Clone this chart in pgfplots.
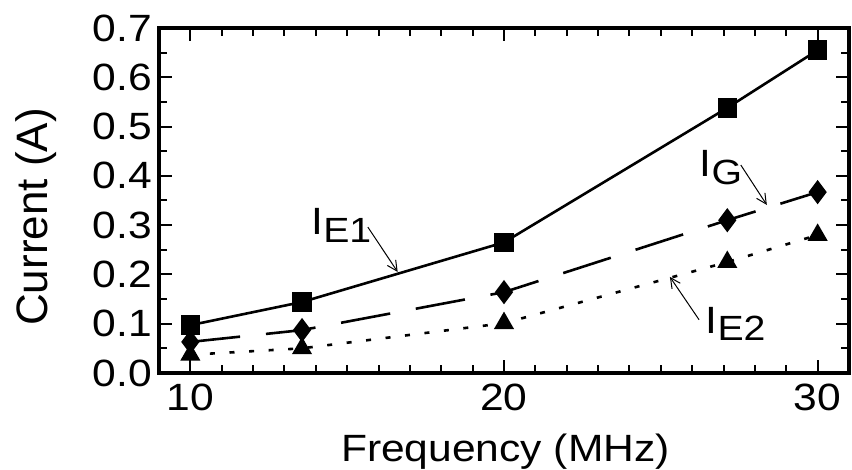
\documentclass[border=0pt]{standalone}
\usepackage{fontspec}
\setmainfont{Liberation Sans}[FakeStretch=1.12]
\newfontfamily\ylabfont{Liberation Sans}
\usepackage{pgfplots}
\pgfplotsset{compat=1.18}
\usetikzlibrary{arrows.meta}
\begin{document}
\begin{tikzpicture}
\begin{axis}[
  scale only axis, width=345pt, height=172.5pt,
  xmin=9, xmax=31, ymin=0, ymax=0.7,
  xtick={10,20,30}, minor xtick={9,11,12,13,14,15,16,17,18,19,21,22,23,24,25,26,27,28,29,31},
  ytick={0,0.1,0.2,0.3,0.4,0.5,0.6,0.7},
  minor ytick={0.05,0.15,0.25,0.35,0.45,0.55,0.65},
  tick align=inside,
  axis line style={line width=1.6pt},
  every tick/.style={black, line width=1pt},
  major tick length=6.5pt, minor tick length=4pt,
  tick label style={font=\fontsize{19}{22}\selectfont},
  /pgf/number format/assume math mode=true,
  yticklabel style={/pgf/number format/.cd, fixed, fixed zerofill, precision=1},
  xticklabel style={yshift=-2pt},
  xlabel={Frequency (MHz)}, ylabel={Current (A)},
  xlabel style={font=\fontsize{19}{22}\selectfont, at={(axis description cs:0.502,-0.258)}, anchor=base},
  ylabel style={font=\ylabfont\fontsize{22}{26}\selectfont, at={(axis description cs:-0.1623,0.452)}, anchor=base},
]
\coordinate (bl) at (rel axis cs:0,0);
\coordinate (tr) at (rel axis cs:1,1);
\addplot[black, line width=1.3pt, mark=square*, mark size=4.25pt]
  coordinates {(10,0.097)(13.56,0.144)(20,0.265)(27.12,0.538)(30,0.655)};
\addplot[black, line width=1.3pt, dash pattern=on 25pt off 13pt, mark=diamond*, mark size=5pt, mark options={solid}]
  coordinates {(10,0.063)(13.56,0.087)(20,0.164)(27.12,0.310)(30,0.367)};
\addplot[black, line width=1.3pt, dash pattern=on 2.5pt off 7.3pt, mark=triangle*, mark size=4.5pt, mark options={solid}]
  coordinates {(10,0.037)(13.56,0.050)(20,0.101)(27.12,0.225)(30,0.280)};
\node[anchor=base west, inner sep=0pt, font=\fontsize{19}{22}\selectfont] at (axis cs:13.85,0.28) {I\raisebox{-3.8pt}{\fontsize{17.5}{20}\selectfont E1}};
\node[anchor=base west, inner sep=0pt, font=\fontsize{19}{22}\selectfont] at (axis cs:26.23,0.398) {I\raisebox{-3.8pt}{\fontsize{17.5}{20}\selectfont G}};
\node[anchor=base west, inner sep=0pt, font=\fontsize{19}{22}\selectfont] at (axis cs:26.42,0.081) {I\raisebox{-3.8pt}{\fontsize{17.5}{20}\selectfont E2}};
\draw[-{Straight Barb[length=5pt,width=5pt]}, line width=0.5pt] (axis cs:15.66,0.296) -- (axis cs:16.61,0.205);
\draw[-{Straight Barb[length=5pt,width=5pt]}, line width=0.5pt] (axis cs:27.55,0.422) -- (axis cs:28.38,0.341);
\draw[-{Straight Barb[length=5pt,width=5pt]}, line width=0.5pt] (axis cs:26.22,0.108) -- (axis cs:25.29,0.195);
\end{axis}
\pgfresetboundingbox
\path ([shift={(-79.5pt,-48.5pt)}]bl) rectangle ([shift={(1.5pt,14pt)}]tr);
\end{tikzpicture}
\end{document}
